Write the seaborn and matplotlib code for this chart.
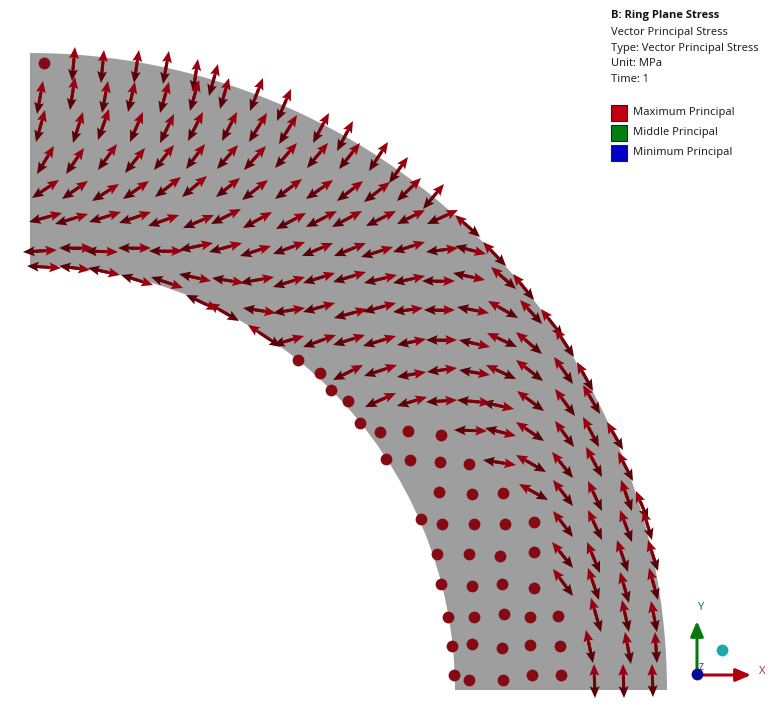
import numpy as np
import pandas as pd
import matplotlib
matplotlib.use("Agg")
import matplotlib.pyplot as plt
from matplotlib.patches import Wedge, Rectangle
from matplotlib.collections import LineCollection
import seaborn as sns

# Vectors: (bright tip x, y, dark tip x, y), in image pixels
vectors_band_a = [
    (75,47,72,81),(104,50,101,83),(139,50,134,83),(169,51,163,84),(198,59,193,92),(218,64,209,96),
    (43,81,37,114),(75,77,70,110),(108,81,102,113),(135,82,128,112),(169,82,160,113),(199,80,190,111),(229,78,220,109),
    (45,110,36,142),(83,112,73,143),(109,109,98,140),(143,112,130,142),(174,114,160,143),(203,112,188,141),(237,112,222,141),
    (54,146,37,174),(84,148,66,174),(117,144,98,170),(145,148,125,173),(174,145,154,170),(205,144,186,169),(238,145,217,169),
    (59,180,32,198),(88,181,62,199),(119,184,92,201),(149,181,123,199),(181,177,155,197),(207,176,182,197),(240,178,216,197),
    (62,213,29,222),(88,214,55,224),(121,212,89,222),(151,212,119,223),(179,215,148,226),(214,215,183,228),(241,209,211,224),
]
vectors_band_b = [
    (57,250,23,252),(93,248,59,248),(118,252,85,251),(151,248,118,248),(183,251,149,251),(213,243,179,250),(242,243,209,252),
    (61,268,27,266),(90,270,59,266),(120,275,88,268),(153,285,121,275),(183,288,151,277),(211,281,179,274),(244,283,212,278),
]
vectors_band_c = [
    (263,78,250,111),(291,89,277,121),(329,113,313,143),(353,121,337,151),(388,142,369,171),(408,157,389,183),(421,178,397,201),(444,184,423,209),
    (267,113,249,142),(297,115,279,144),(328,143,307,168),(360,143,339,169),(390,182,364,202),
    (266,146,244,170),(297,143,275,168),
    (268,180,242,200),(302,179,275,199),(333,180,306,199),(363,181,337,201),
    (272,212,243,228),(306,213,276,229),(337,211,306,227),(362,211,332,227),(396,211,366,226),(425,210,397,224),(458,210,427,224),
    (455,215,480,237),
    (271,246,240,256),(305,242,273,254),(333,243,302,256),(366,243,334,256),(393,247,361,257),(425,242,393,252),(458,248,426,252),(486,254,455,246),
    (274,277,240,283),(305,277,273,287),(335,273,303,283),(366,272,333,282),(397,275,364,283),(425,276,393,283),(455,281,422,281),(485,280,453,273),
]
vectors_band_d = [
    (218,310,186,295),(208,303,239,321),
    (276,313,243,308),(305,308,273,313),(335,303,303,312),(367,309,334,318),(396,303,363,312),
    (248,325,281,347),(304,336,273,345),(336,335,303,347),(365,335,333,345),(396,336,363,346),
    (363,365,333,380),(397,365,364,376),(396,393,365,407),
    (423,308,393,312),(455,310,424,310),(489,313,457,307),
    (426,339,397,345),(457,340,426,340),(490,347,459,340),
    (426,372,397,377),(457,368,427,372),(490,375,459,370),
    (427,397,397,406),(457,400,426,402),(491,403,457,400),(514,409,482,402),
    (487,431,454,430),(516,436,485,428),(516,465,483,460),
]
vectors_band_e = [
    (483,242,506,266),(491,267,516,289),(513,274,534,300),(488,301,518,318),(520,300,542,324),(541,309,563,337),
    (555,328,574,357),(487,333,517,347),(516,332,542,354),(554,357,573,384),(577,362,593,391),(583,385,600,414),
    (486,365,516,379),(516,360,543,381),(517,391,544,411),(555,389,575,416),
    (516,422,544,441),(555,421,574,447),(583,417,599,447),(607,422,623,450),
    (516,455,546,472),(552,452,573,478),(586,447,602,477),(618,452,633,481),
]
vectors_band_f = [
    (519,484,548,500),(553,480,573,506),(588,481,602,511),(621,480,632,511),(636,491,648,520),(643,510,652,540),
    (553,511,573,537),(588,510,602,540),(620,510,632,542),(648,540,658,571),
    (552,542,573,568),(587,542,600,573),(617,540,628,572),
    (553,569,573,596),(588,568,599,600),(620,572,629,603),(649,568,658,600),
    (591,598,601,632),(622,600,629,632),(651,601,657,632),
    (586,630,593,663),(625,632,631,664),(655,632,657,663),
    (594,664,595,698),(623,664,624,698),(652,664,653,697),
]
dots_x = [44,298,320,331,348,360,380,386,408,410,441,440,469,
          439,472,503,421,442,474,505,534,437,469,500,534,441,472,502,534,
          448,474,504,530,558,452,472,502,530,560,454,469,503,532,561]
dots_y = [63,360,373,390,401,423,432,459,431,460,435,462,464,
          492,494,493,519,524,524,524,522,554,554,556,552,584,586,584,588,
          617,617,614,617,616,646,644,648,645,646,675,680,680,675,675]

title_lines = ["Vector Principal Stress", "Type: Vector Principal Stress", "Unit: MPa", "Time: 1"]
legend_labels = ["Maximum Principal", "Middle Principal", "Minimum Principal"]
legend_colors = ["#c00010", "#008010", "#0000c8"]

sns.set_theme(style="white")
plt.rcParams["font.family"] = ["Noto Sans", "DejaVu Sans"]

fig = plt.figure(figsize=(7.72, 7.22), dpi=100)
ax = fig.add_axes([0, 0, 1, 1])

ax.add_patch(Wedge((30, 690), 637, 270, 360, width=212, fc="#9e9e9e", ec="none", zorder=1))

dots = pd.DataFrame({"x": dots_x, "y": dots_y})
sns.scatterplot(data=dots, x="x", y="y", ax=ax, s=72, color="#860a12", linewidth=0, zorder=2, legend=False)
ax.set_xlim(0, 772)
ax.set_ylim(722, 0)
ax.axis("off")

v = pd.DataFrame(vectors_band_a + vectors_band_b + vectors_band_c + vectors_band_d + vectors_band_e + vectors_band_f,
                 columns=["bx", "by", "dx", "dy"])
mx = (v.bx + v.dx) / 2
my = (v.by + v.dy) / 2
kw = dict(angles="xy", scale_units="xy", scale=1, units="xy", width=3.0,
          headwidth=3.3, headlength=3.9, headaxislength=3.4, minlength=0, zorder=3)
ax.quiver(mx, my, v.dx - mx, v.dy - my, color="#5a0006", **kw)
ax.quiver(mx, my, v.bx - mx, v.by - my, color="#98000e", **kw)
# shaft fades from the dark half to the bright half
segs = [[(m + (d - m) * 0.3, n + (e - n) * 0.3), (m + (b - m) * 0.3, n + (c - n) * 0.3)]
        for m, n, b, c, d, e in zip(mx, my, v.bx, v.by, v.dx, v.dy)]
ax.add_collection(LineCollection(segs, colors="#7a000a", linewidths=2.16, capstyle="butt", zorder=3.1))

ax.text(611, 15.5, "B: Ring Plane Stress", fontsize=8.0, fontweight="bold", family="Open Sans", color="#111111", va="center")
for yy, line in zip([32, 48, 64, 80], title_lines):
    ax.text(611, yy, line, fontsize=8.0, color="#222222", va="center")
for yy, label, col in zip([113, 132.5, 152.5], legend_labels, legend_colors):
    ax.add_patch(Rectangle((611, yy - 8), 16, 16, fc=col, ec="#202020", lw=0.8, zorder=3))
    ax.text(633, yy - 0.5, label, fontsize=8.0, color="#222222", va="center")

ax.annotate("", xy=(697, 621), xytext=(697, 674), zorder=4,
            arrowprops=dict(arrowstyle="-|>,head_width=0.32,head_length=0.75", color="#0a780f", lw=2.2, shrinkA=0, shrinkB=0))
ax.annotate("", xy=(751, 675), xytext=(697, 675), zorder=4,
            arrowprops=dict(arrowstyle="-|>,head_width=0.32,head_length=0.75", color="#b00010", lw=2.2, shrinkA=0, shrinkB=0))
ax.plot([697], [674], "o", ms=8.5, color="#0a0a96", zorder=5, mew=0)
ax.plot([722], [650], "o", ms=8.5, color="#20a8a8", zorder=5, mew=0)
ax.text(700.5, 608, "Y", fontsize=8, color="#208030", ha="center", va="center")
ax.text(762, 671, "X", fontsize=8, color="#c03030", ha="center", va="center")
ax.text(701, 668, "Z", fontsize=6, color="#2030b0", ha="center", va="center", zorder=6)

fig.savefig("out.png", dpi=100)
